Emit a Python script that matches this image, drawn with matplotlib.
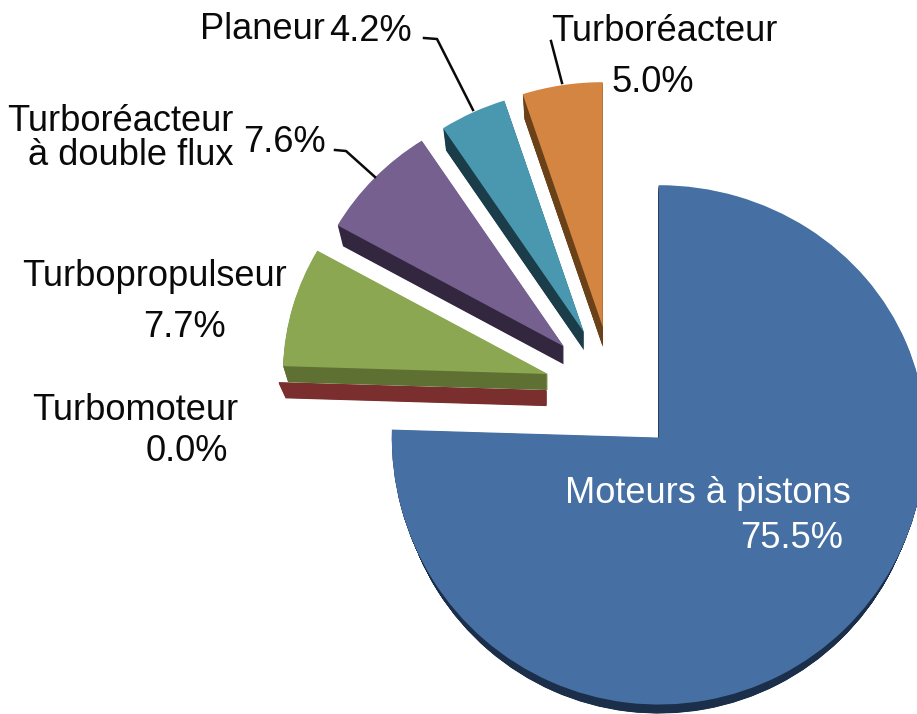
import numpy as np
import matplotlib
matplotlib.use("Agg")
import matplotlib.pyplot as plt
from matplotlib.patches import Wedge
from matplotlib.lines import Line2D
from matplotlib.transforms import Affine2D

categories = ["Moteurs à pistons", "Turbomoteur", "Turbopropulseur",
              "Turboréacteur\nà double flux", "Planeur", "Turboréacteur"]
values = [75.5, 0.0, 7.7, 7.6, 4.2, 5.0]
top_colors = ["#4670A3", "#7A2F2E", "#8BA752", "#76608F", "#4A98B0", "#D38541"]
side_colors = ["#1B2E4A", "#7A2F2E", "#5F7033", "#33263F", "#1A3D49", "#6B4119"]

W, H = 917, 714
fig = plt.figure(figsize=(W / 100, H / 100), dpi=100)
ax = fig.add_axes([0, 0, 1, 1])

# pixel helper for text and leaders
px = Affine2D().scale(1, -1).translate(0, H)

# gentle perspective: the part of the pie behind the hinge is squeezed
Y0 = H - 437
BACK = 0.945


def fwd(y):
    y = np.asarray(y, dtype=float)
    return np.where(y > Y0, Y0 + (y - Y0) * BACK, y)


def inv(y):
    y = np.asarray(y, dtype=float)
    return np.where(y > Y0, Y0 + (y - Y0) / BACK, y)


wedges, _ = ax.pie(values, colors=top_colors, startangle=90, counterclock=False,
                   radius=260, center=(613.4, Y0 + 49.3),
                   explode=[68] * len(values),
                   wedgeprops=dict(linewidth=0))

radii = [267, 268, 265, 260, 258, 259]
nudges = [(-2, -1), (1, -2), (0, -1), (0, 0), (0, 0), (0, 0)]
depths = [15, 15, 16, 18, 18, 20]
shrinks = [6, 7, 5, 6, 5, 5]
for i, w in enumerate(wedges):
    base = i * 10 + 2
    w.set_zorder(base + 5)
    w.set_radius(radii[i])
    cx, cy = w.center
    cx, cy = cx + nudges[i][0], cy + nudges[i][1]
    w.set_center((cx, cy))
    lw = 1.2 if values[i] == 0 else 0
    for t in np.linspace(1, 0.04, 30):
        d, s = depths[i] * t, shrinks[i] * t
        ax.add_patch(Wedge((cx, cy - d / (BACK if cy - d > Y0 else 1)), w.r - s,
                           w.theta1, w.theta2, facecolor=side_colors[i],
                           edgecolor=side_colors[i], linewidth=lw, zorder=base))
# the empty slice has no visible top face
wedges[1].set_visible(False)

ax.set_aspect("auto")
ax.set_xlim(0, W)
ax.set_yscale("function", functions=(fwd, inv))
ax.set_ylim(float(inv(0)), float(inv(H)))
ax.axis("off")

sans = ["Liberation Sans", "DejaVu Sans"]
FS = 26.1
INK = "#0A0A0A"


def put(x, y, s, ha="right", color=INK):
    fig.text(x, y, s, transform=px, ha=ha, va="baseline", color=color,
             family=sans, fontsize=FS)


pcts = [f"{v:.1f}%" for v in values]

put(851, 503, categories[0], color="white")
put(843, 548, pcts[0], color="white")

put(238, 420, categories[1])
put(228, 461, pcts[1])

put(287, 286, categories[2])
put(226, 337, pcts[2])

first, second = categories[3].split("\n")
put(233, 131, first)
put(233, 165, second)
put(326, 152, pcts[3])

put(325, 39, categories[4])
put(412, 41, pcts[4])

put(778, 41, categories[5])
put(694, 92, pcts[5])

for xs, ys in [((335, 346, 375), (150, 151, 177)),
               ((424, 437, 473), (38, 39, 110)),
               ((551, 562), (41, 83))]:
    fig.add_artist(Line2D(xs, ys, transform=px, color="#0A0A0A", linewidth=1.8, zorder=30))

fig.savefig("out.png", dpi=100, facecolor="white")
